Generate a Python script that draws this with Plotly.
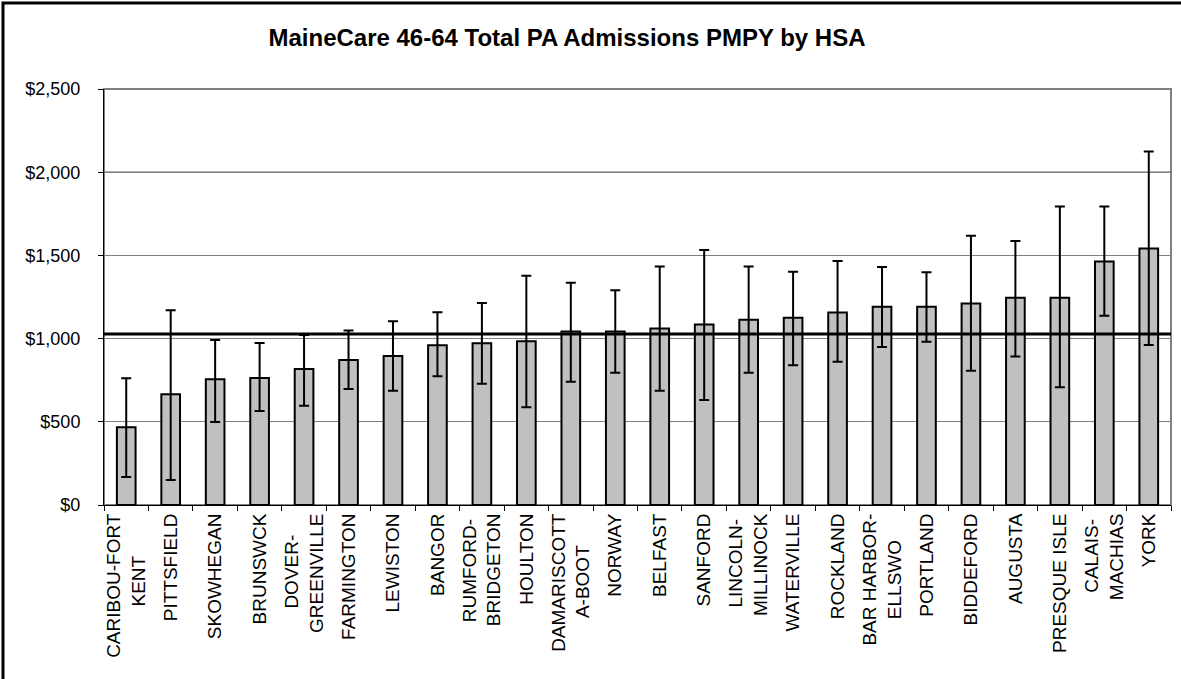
import plotly.graph_objects as go

hsa = ["CARIBOU-FORT|KENT", "PITTSFIELD", "SKOWHEGAN", "BRUNSWCK", "DOVER-|GREENVILLE",
       "FARMINGTON", "LEWISTON", "BANGOR", "RUMFORD-|BRIDGETON", "HOULTON",
       "DAMARISCOTT|A-BOOT", "NORWAY", "BELFAST", "SANFORD", "LINCOLN-|MILLINOCK",
       "WATERVILLE", "ROCKLAND", "BAR HARBOR-|ELLSWO", "PORTLAND", "BIDDEFORD",
       "AUGUSTA", "PRESQUE ISLE", "CALAIS-|MACHIAS", "YORK"]
pmpy = [467, 665, 755, 763, 817, 871, 895, 960, 972, 984, 1042, 1042,
        1060, 1084, 1114, 1126, 1157, 1191, 1191, 1211, 1246, 1246, 1464, 1542]
ci_upper = [761, 1170, 991, 973, 1022, 1048, 1104, 1158, 1214, 1378, 1336, 1290,
            1434, 1532, 1434, 1402, 1466, 1431, 1398, 1618, 1586, 1794, 1794, 2125]
ci_lower = [168, 150, 499, 565, 597, 697, 687, 773, 729, 587, 741, 795,
            687, 631, 795, 840, 861, 949, 981, 807, 893, 707, 1137, 961]
state_avg = 1028

font = "Arial, Liberation Sans, sans-serif"

# rough Arial widths (em) so wrapped labels can be centred like Excel does
narrow = {"I": 0.278, "-": 0.333, " ": 0.278, "L": 0.556, "T": 0.611, "F": 0.611}


def text_w(s):
    return sum(narrow.get(c, 0.7) for c in s)


def wrap_label(name):
    lines = name.split("|")
    if len(lines) == 1:
        return name
    longest = max(text_w(l) for l in lines)
    out = []
    for l in lines:
        pad = int(round((longest - text_w(l)) / 2 / 0.278))
        out.append(l + "\u00a0" * pad)
    return "<br>".join(out)


labels = [wrap_label(h) for h in hsa]

fig = go.Figure()
fig.add_trace(go.Bar(
    x=labels, y=pmpy,
    marker=dict(color="#C0C0C0", line=dict(color="black", width=2)),
    error_y=dict(type="data", symmetric=False,
                 array=[u - v for u, v in zip(ci_upper, pmpy)],
                 arrayminus=[v - l for v, l in zip(pmpy, ci_lower)],
                 color="black", thickness=2, width=5),
    showlegend=False,
))

fig.update_layout(
    width=1181, height=679,
    margin=dict(l=104, r=10, t=89, b=174),
    paper_bgcolor="white", plot_bgcolor="white",
    bargap=0.58,
    font=dict(family=font, size=17, color="black"),
    title=dict(text="<b>MaineCare 46-64 Total PA Admissions PMPY by HSA</b>",
               x=567 / 1181, xanchor="center", y=1 - 38 / 679, yanchor="middle",
               font=dict(family=font, size=24, color="black")),
    xaxis=dict(tickangle=-90, ticks="outside", tickson="boundaries", ticklen=5,
               tickcolor="black", showline=True, linecolor="black", linewidth=1,
               showgrid=False, tickfont=dict(size=19)),
    yaxis=dict(range=[0, 2500], tickvals=[0, 500, 1000, 1500, 2000, 2500],
               tickformat="$,.0f", ticks="outside", ticklen=5, ticklabelstandoff=14,
               tickcolor="black", showline=True, linecolor="black", linewidth=1,
               gridcolor="#808080", gridwidth=1, zeroline=False,
               tickfont=dict(size=18)),
    shapes=[
        dict(type="rect", xref="paper", yref="paper", x0=0, x1=1, y0=0, y1=1,
             line=dict(color="#808080", width=2), layer="below"),
        dict(type="line", xref="paper", yref="y", x0=0, x1=1, y0=2000, y1=2000,
             line=dict(color="black", width=1), layer="below"),
        dict(type="line", xref="paper", yref="y", x0=0, x1=1, y0=state_avg, y1=state_avg,
             line=dict(color="black", width=3), layer="above"),
        dict(type="rect", xref="paper", yref="paper", x0=(3 - 104) / 1067, x1=1.05,
             y0=-0.6, y1=1 + (89 - 3) / 416, line=dict(color="black", width=3)),
    ],
)

fig.write_html("out.html", config={"displayModeBar": False},
               post_script="document.body.style.margin='0';")
